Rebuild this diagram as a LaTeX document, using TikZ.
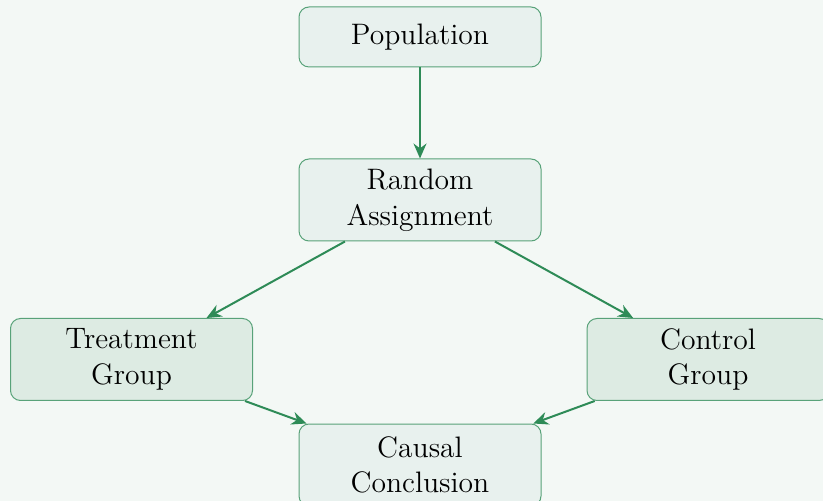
\documentclass[tikz,border=0pt]{standalone}
\usetikzlibrary{arrows.meta}
\definecolor{bg}{HTML}{F3F8F5}
\definecolor{boxA}{HTML}{E8F1EE}
\definecolor{boxB}{HTML}{DDEBE3}
\definecolor{sg}{HTML}{2E8B57}
\begin{document}
\begin{tikzpicture}[x=0.5pt,y=-0.5pt,
  box/.style={draw=sg!80, line width=0.5pt, rounded corners=5pt, fill=boxA,
    minimum width=121pt, minimum height=41pt, align=center,
    font=\fontsize{14.8}{17.8}\selectfont, inner sep=2pt},
  grp/.style={box, fill=boxB},
  arr/.style={draw=sg, line width=1pt, -{Stealth[length=7.5pt,width=6.5pt]}}]
\fill[bg] (0,0) rectangle (823,501);
\useasboundingbox (0,0) rectangle (823,501);
\clip (0,0) rectangle (823,501);
\node[box, minimum height=30pt] (pop) at (420,37) {Population};
\node[box] (rand) at (420,200) {Random\\Assignment};
\node[grp] (treat) at (131.5,359.5) {Treatment\\Group};
\node[grp] (ctrl) at (708,359.5) {Control\\Group};
\node[box] (causal) at (420,465) {Causal\\Conclusion};
\draw[arr] (pop) -- (rand);
\draw[arr] (rand) -- (treat);
\draw[arr] (rand) -- (ctrl);
\draw[arr] (treat) -- (causal);
\draw[arr] (ctrl) -- (causal);
\end{tikzpicture}
\end{document}
